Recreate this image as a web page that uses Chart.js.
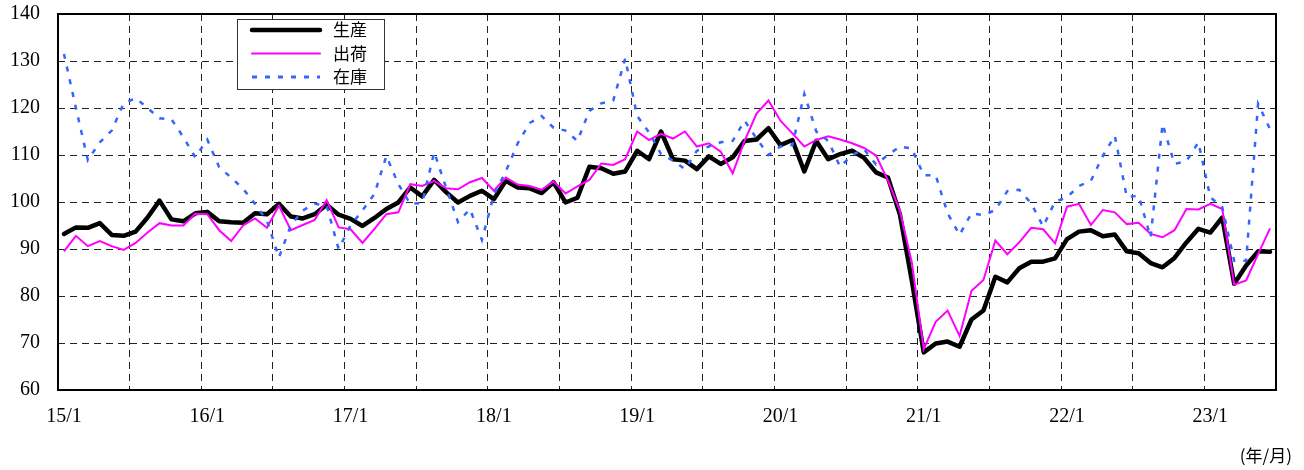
<!DOCTYPE html>
<html>
<head>
<meta charset="utf-8">
<script src="https://cdn.jsdelivr.net/npm/chart.js@4.4.0/dist/chart.umd.min.js"></script>
<style>
  html, body { margin: 0; padding: 0; background: #fff; }
</style>
</head>
<body>
<canvas id="myChart" width="1304" height="470"></canvas>
<script>
// 月ラベル (15/1 〜 23/6)
const months = [];
for (let y = 15; y <= 23; y++) {
  for (let m = 1; m <= 12; m++) {
    if (y === 23 && m > 6) break;
    months.push(y + '/' + m);
  }
}
const tickLabels = ['15/1', '16/1', '17/1', '18/1', '19/1', '20/1', '21/1', '22/1', '23/1'];

// 生産
const production = [
  93.2, 94.6, 94.5, 95.5, 93.0, 92.8, 93.7, 96.7, 100.3, 96.3, 95.9, 97.6,
  97.9, 95.9, 95.7, 95.6, 97.6, 97.4, 99.6, 96.9, 96.5, 97.4, 99.4, 97.3,
  96.4, 94.9, 96.6, 98.5, 99.9, 103.1, 101.2, 104.7, 102.1, 99.9, 101.3, 102.4,
  100.6, 104.5, 103.1, 102.9, 101.9, 104.2, 99.9, 100.9, 107.5, 107.2, 106.0, 106.5,
  110.9, 109.1, 115.0, 109.1, 108.8, 107.0, 109.7, 108.1, 109.5, 113.0, 113.3, 115.7,
  112.1, 113.2, 106.5, 113.0, 109.1, 110.2, 110.9, 109.4, 106.3, 105.2, 97.4, 83.3,
  68.0, 69.9, 70.3, 69.2, 75.0, 76.9, 84.1, 82.9, 85.9, 87.3, 87.3, 88.0,
  92.1, 93.7, 94.0, 92.7, 93.1, 89.5, 89.1, 87.0, 86.1, 88.1, 91.4, 94.3,
  93.5, 96.7, 82.6, 86.5, 89.5, 89.4
];
// 出荷
const shipments = [
  89.5, 92.8, 90.6, 91.7, 90.6, 89.8, 91.3, 93.5, 95.5, 95.0, 95.0, 97.5,
  97.4, 94.0, 91.7, 95.0, 96.5, 94.5, 99.2, 94.0, 95.1, 96.2, 100.4, 94.6,
  94.2, 91.3, 94.3, 97.4, 97.8, 103.8, 103.4, 104.5, 102.9, 102.7, 104.2, 105.1,
  102.4, 105.2, 103.7, 103.4, 102.6, 104.4, 101.8, 103.3, 104.7, 108.2, 107.9, 109.1,
  115.0, 113.2, 114.5, 113.5, 115.0, 111.8, 112.5, 110.7, 106.1, 113.0, 118.8, 121.6,
  117.3, 114.6, 111.8, 113.2, 114.0, 113.3, 112.5, 111.5, 109.9, 104.6, 98.2, 87.2,
  68.7, 74.5, 76.9, 71.5, 81.1, 83.4, 91.8, 88.9, 91.4, 94.5, 94.2, 91.2,
  99.0, 99.6, 95.1, 98.3, 97.8, 95.3, 95.6, 93.2, 92.5, 94.0, 98.5, 98.4,
  99.6, 98.5, 82.4, 83.3, 88.9, 94.4
];
// 在庫
const inventory = [
  131.5, 120.0, 108.9, 112.7, 115.2, 121.0, 122.1, 120.0, 117.8, 117.6, 113.8, 109.5,
  113.3, 107.4, 105.2, 102.8, 99.6, 96.0, 88.2, 95.0, 98.2, 99.6, 99.2, 90.0,
  95.0, 98.2, 101.7, 109.8, 103.8, 99.6, 99.8, 110.6, 103.1, 95.7, 98.5, 91.9,
  101.5, 106.5, 112.5, 116.8, 118.3, 115.8, 115.2, 113.0, 119.4, 121.0, 121.6, 130.5,
  118.3, 114.8, 110.2, 108.8, 107.0, 110.9, 111.8, 112.7, 113.0, 117.3, 113.5, 110.0,
  111.8, 112.1, 123.0, 115.0, 113.0, 107.5, 110.0, 111.2, 108.0, 110.0, 111.8, 111.4,
  105.7, 105.7, 97.6, 93.0, 97.6, 97.2, 98.3, 102.3, 102.6, 99.7, 94.8, 100.1,
  101.0, 103.4, 104.5, 109.8, 114.1, 101.1, 101.3, 92.5, 116.6, 108.1, 108.7, 112.7,
  101.0, 98.9, 87.5, 87.5, 120.9, 115.5
];

const serif = '"Liberation Serif", "Noto Sans CJK JP", serif';
const gothic = '"Noto Sans CJK JP", sans-serif';

// 枠線と単位
const framePlugin = {
  id: 'frame',
  afterDraw(chart) {
    const { ctx, chartArea: a } = chart;
    ctx.save();
    ctx.strokeStyle = '#000';
    ctx.lineWidth = 2;
    ctx.strokeRect(a.left, a.top, a.right - a.left, a.bottom - a.top);
    ctx.fillStyle = '#000';
    ctx.font = '17px ' + gothic;
    ctx.textAlign = 'right';
    ctx.textBaseline = 'middle';
    ctx.fillText('(年/月)', a.right + 16, 456);
    ctx.restore();
  }
};

// 凡例 (枠付き)
const legendPlugin = {
  id: 'legendBox',
  afterDatasetsDraw(chart) {
    const { ctx, chartArea: a } = chart;
    const x = a.left + 179, y = a.top + 5, w = 147, h = 70;
    ctx.save();
    ctx.fillStyle = '#fff';
    ctx.fillRect(x, y, w, h);
    ctx.strokeStyle = '#333';
    ctx.lineWidth = 1;
    ctx.strokeRect(x + 0.5, y + 0.5, w, h);
    chart.data.datasets.forEach((ds, i) => {
      const ry = y + 11 + i * 23.5;
      ctx.beginPath();
      ctx.strokeStyle = ds.borderColor;
      ctx.lineWidth = ds.legendWidth;
      ctx.lineCap = ds.borderDash ? 'butt' : 'round';
      ctx.setLineDash(ds.borderDash || []);
      ctx.moveTo(x + 15, ry);
      ctx.lineTo(x + 83, ry);
      ctx.stroke();
      ctx.setLineDash([]);
      ctx.fillStyle = '#000';
      ctx.font = '17px ' + gothic;
      ctx.textAlign = 'left';
      ctx.textBaseline = 'middle';
      ctx.fillText(ds.label, x + 96, ry);
    });
    ctx.restore();
  }
};

const ctx = document.getElementById('myChart').getContext('2d');
new Chart(ctx, {
  type: 'line',
  data: {
    labels: months,
    datasets: [
      {
        label: '生産',
        data: production,
        borderColor: '#000',
        borderWidth: 4.5,
        legendWidth: 4.5,
        borderJoinStyle: 'round',
        borderCapStyle: 'round',
        order: 2
      },
      {
        label: '出荷',
        data: shipments,
        borderColor: '#ff00ff',
        borderWidth: 2,
        legendWidth: 2,
        order: 1
      },
      {
        label: '在庫',
        data: inventory,
        borderColor: '#3366ff',
        borderWidth: 2.5,
        legendWidth: 3,
        borderDash: [5, 8],
        order: 0
      }
    ]
  },
  options: {
    responsive: false,
    animation: false,
    devicePixelRatio: 1,
    layout: { padding: { top: 14, right: 28, left: 0, bottom: 0 } },
    elements: {
      point: { radius: 0 },
      line: { tension: 0, fill: false }
    },
    plugins: {
      legend: { display: false },
      tooltip: { enabled: false }
    },
    scales: {
      x: {
        offset: true,
        border: { display: false, dash: [7, 5] },
        grid: {
          offset: true,
          drawTicks: false,
          lineWidth: 1,
          color: (c) => (c.tick && c.index % 6 === 0) ? '#222' : 'rgba(0,0,0,0)'
        },
        ticks: {
          autoSkip: false,
          maxRotation: 0,
          minRotation: 0,
          padding: 15,
          color: '#000',
          font: { family: serif, size: 20 },
          callback: (v, i) => tickLabels.includes(months[i]) ? months[i] : ''
        },
        afterFit: (s) => { s.height = 80; }
      },
      y: {
        min: 60,
        max: 140,
        border: { display: false, dash: [7, 5] },
        grid: {
          drawTicks: false,
          color: '#222',
          lineWidth: 1
        },
        ticks: {
          stepSize: 10,
          padding: 18,
          color: '#000',
          font: { family: serif, size: 20 }
        },
        afterFit: (s) => {
          s.width = 58;
          s.paddingTop = 0;
          s.paddingBottom = 0;
        }
      }
    }
  },
  plugins: [legendPlugin, framePlugin]
});
</script>
</body>
</html>
